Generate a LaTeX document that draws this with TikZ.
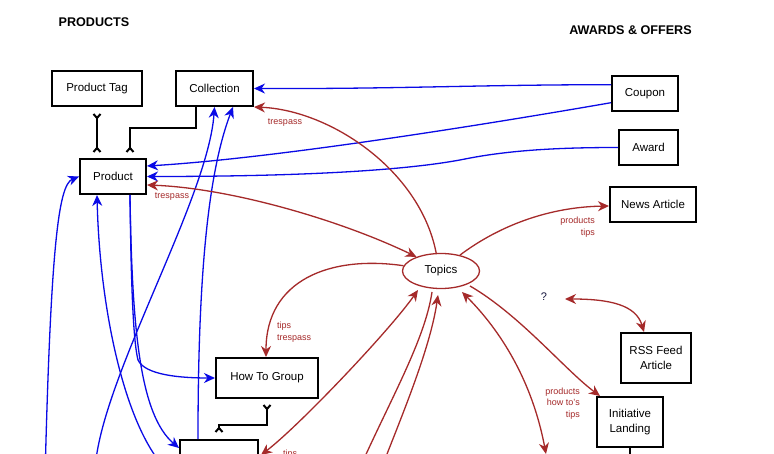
\documentclass[tikz,border=0pt]{standalone}
\usepackage{fontspec}
\setmainfont{Liberation Sans}
\usetikzlibrary{arrows.meta,calc,shapes.geometric}
\definecolor{eblue}{RGB}{10,10,230}
\definecolor{ered}{RGB}{165,42,42}
\definecolor{qmark}{RGB}{20,20,60}
\begin{document}
\begin{tikzpicture}[x=1pt,y=-1pt,
  box/.style={draw=black,line width=2pt,inner sep=0pt,minimum height=35pt,
    font=\fontsize{11.5}{15}\selectfont,align=center},
  title/.style={inner sep=0pt,font=\fontsize{12.6}{14}\selectfont\bfseries},
  lab/.style={inner sep=0pt,text=ered,font=\fontsize{9}{11.7}\selectfont},
  bl/.style={draw=eblue,line width=1.3pt,-{Stealth[length=11pt,width=10pt,inset=3.5pt]}},
  rd/.style={draw=ered,line width=1.3pt},
  rtip/.style={-{Stealth[length=11pt,width=10pt,inset=3.5pt]}},
  rboth/.style={{Stealth[length=11pt,width=10pt,inset=3.5pt]}-{Stealth[length=11pt,width=10pt,inset=3.5pt]}},
  kconn/.style={draw=black,line width=2pt},
  kboth/.style={{Straight Barb[reversed,length=4pt,width=7pt]}-{Straight Barb[reversed,length=4pt,width=7pt]}},
  kend/.style={-{Straight Barb[reversed,length=4pt,width=7pt]}}
]
\useasboundingbox (0,0) rectangle (774,454);
\fill[white] (0,0) rectangle (774,454);
\clip (0,0) rectangle (774,454);

% titles
\node[title] (tprod) at (94,22.3) {PRODUCTS};
\node[title] (taw) at (630.5,30.3) {AWARDS \& OFFERS};

% nodes
\node[box,minimum width=90pt] (prodtag) at (97,88.5) {Product Tag};
\node[box,minimum width=77pt] (coll) at (214.5,88.5) {Collection};
\node[box,minimum width=66pt] (prod) at (113,176.5) {Product};
\node[box,minimum width=66pt] (coupon) at (645,93.5) {Coupon};
\node[box,minimum width=59pt] (award) at (648.5,147.5) {Award};
\node[box,minimum width=86pt] (news) at (653,204.5) {News Article};
\node[ellipse,draw=ered,line width=1.3pt,minimum width=77pt,minimum height=35pt,inner sep=0pt,
  font=\fontsize{11.5}{15}\selectfont] (topics) at (441,271) {Topics};
\node[box,minimum width=70pt,minimum height=50pt] (rss) at (656,358) {RSS Feed\\Article};
\node[box,minimum width=66pt,minimum height=50pt] (init) at (630,422) {Initiative\\Landing};
\node[box,minimum width=102pt,minimum height=40pt] (htg) at (267,378) {How To Group};
\node[box,minimum width=78pt,minimum height=50pt] (bbox) at (219,465) {};
\node[inner sep=0pt,text=qmark,font=\fontsize{11}{13}\selectfont] (qm) at (544,297) {?};

% off-picture ends
\coordinate (offA) at (44,520);
\coordinate (offB) at (95,470);
\coordinate (offC) at (358,472);
\coordinate (offD) at (380,472);
\coordinate (offE) at (546,454);
\coordinate (offF) at (630,480);

% black connectors
\draw[kconn,kboth,shorten <=6pt,shorten >=5pt] (prodtag.south) -- ($(prod.north)+(-16,0)$);
\draw[kconn,kend,shorten >=5pt] ($(coll.south)+(-18.5,0)$) -- ++(0,21) -| ($(prod.north)+(17,0)$);
\draw[kconn,kboth,shorten <=5pt,shorten >=6pt] (htg.south) -- ++(0,26.3) -| (bbox.north);
\draw[kconn] (init.south) -- (offF);

% blue connectors
\draw[bl] ($(coupon.west)+(0,-8.8)$) .. controls (480,84.7) and (400,89) .. (coll.east);
\draw[bl] ($(coupon.west)+(0,9.2)$) .. controls (500,122) and (280,158) .. ($(prod.east)+(0,-10.5)$);
\draw[bl] (award.west) .. controls (560,147.5) and (510,150) .. (465,159)
  .. controls (420,168) and (330,176.5) .. (prod.east);
\draw[bl] (offA) .. controls (50,250) and (58,185) .. (prod.west);
\draw[bl] ($(bbox.west)+(0,15)$) .. controls (130,450) and (100,320) .. ($(prod.south)+(-16,0)$);
\draw[bl] ($(prod.south)+(17,0)$) .. controls (131,280) and (133,340) .. (138,360)
  .. controls (145,375) and (180,378) .. (htg.west);
\draw[bl] ($(prod.south)+(17,0)$) .. controls (132,330) and (140,415) .. ($(bbox.west)+(0,-17)$);
\draw[bl] (offB) .. controls (100,380) and (208,200) .. (coll.south);
\draw[bl] ($(bbox.north)+(-21,0)$) .. controls (198,300) and (205,180) .. ($(coll.south)+(18.5,0)$);

% red connectors
\draw[rd,rtip] (topics.105) .. controls (420,170) and (330,110) .. (coll.south east);
\draw[rd,rboth] ($(prod.east)+(0,8.5)$) .. controls (230,188) and (340,220) .. (topics.150);
\draw[rd,rtip] (topics.40) .. controls (500,225) and (550,207) .. ($(news.west)+(0,1.5)$);
\draw[rd,rtip] (topics.172) .. controls (330,255) and (266,280) .. ($(htg.north)+(-1,0)$);
\draw[rd,rboth] ($(bbox.east)+(2,-10)$) .. controls (300,425) and (390,330) .. ($(topics.center)+(-23,19)$);
\draw[rd] ($(topics.center)+(-9,21)$) .. controls (425,340) and (390,400) .. (offC);
\draw[rd,rtip] (offD) .. controls (400,420) and (430,350) .. ($(topics.center)+(-3,24)$);
\draw[rd,rboth] ($(topics.center)+(21,21)$) .. controls (500,330) and (532,380) .. (offE);
\draw[rd,rtip] ($(topics.center)+(29,15)$) .. controls (520,315) and (565,370) .. ($(init.north west)+(4,0)$);
\draw[rd,rboth] ($(qm.center)+(21,2)$) .. controls (610,299) and (636,305) .. ($(rss.north)+(-12,0)$);

% labels
\node[lab] (l1) at (285,123) {trespass};
\node[lab] (l2) at (172,197) {trespass};
\node[lab,align=right,anchor=east] (l3) at (595,227.5) {products\\tips};
\node[lab,align=left,anchor=west] (l4) at (277,332.5) {tips\\trespass};
\node[lab,align=right,anchor=east] (l5) at (580,403.5) {products\\how to's\\tips};
\node[lab] (l6) at (290,454) {tips};
\end{tikzpicture}
\end{document}
